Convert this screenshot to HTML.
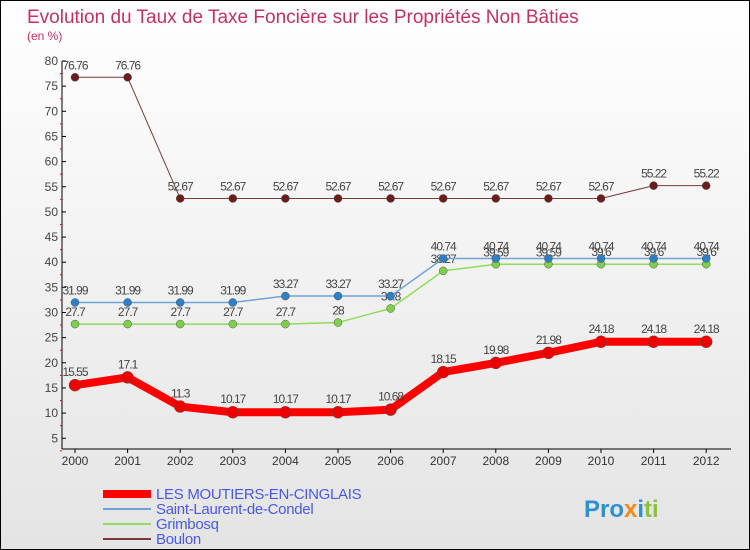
<!DOCTYPE html>
<html><head><meta charset="utf-8"><style>
body{margin:0}
#c{width:748px;height:548px;border:1px solid #000;background:linear-gradient(#fff,#e4e4e4);position:relative;overflow:hidden;font-family:"Liberation Sans",sans-serif}
</style></head><body>
<div id="c">
<svg id="s" width="748" height="548"></svg>
</div>
<script>
const years=[2000,2001,2002,2003,2004,2005,2006,2007,2008,2009,2010,2011,2012];
const moutiers=[15.55,17.1,11.3,10.17,10.17,10.17,10.68,18.15,19.98,21.98,24.18,24.18,24.18];
const stLaurent=[31.99,31.99,31.99,31.99,33.27,33.27,33.27,40.74,40.74,40.74,40.74,40.74,40.74];
const grimbosq=[27.7,27.7,27.7,27.7,27.7,28,30.8,38.27,39.59,39.59,39.6,39.6,39.6];
const boulon=[76.76,76.76,52.67,52.67,52.67,52.67,52.67,52.67,52.67,52.67,52.67,55.22,55.22];
const yTicks=[5,10,15,20,25,30,35,40,45,50,55,60,65,70,75,80];
const NS="http://www.w3.org/2000/svg",s=document.getElementById('s');
const X=i=>74+i*52.6, Y=v=>60+(80-v)*5.03;
function el(t,a,txt,par){const e=document.createElementNS(NS,t);for(const k in a)e.setAttribute(k,a[k]);if(txt!==undefined)e.textContent=txt;(par||s).appendChild(e);return e;}
let t=el('text',{x:26,y:22,'font-size':19,fill:'#c0335f'},'Evolution du Taux de Taxe Foncière sur les Propriétés Non Bâties');


t=el('text',{x:26,y:39,'font-size':12,fill:'#c0335f'},'(en %)');


let a=el('line',{x1:61,y1:60,x2:61,y2:448,stroke:'#000'});


a=el('line',{x1:61,y1:448,x2:730,y2:448,stroke:'#000'});


yTicks.forEach(v=>{
 el('line',{x1:61,y1:Y(v),x2:65,y2:Y(v),stroke:'#000'});
 el('line',{x1:59,y1:Y(v-2.5),x2:61,y2:Y(v-2.5),stroke:'#e00'});
 const l=el('text',{x:57,y:Y(v)+4,'font-size':12,fill:'#444','text-anchor':'end'},v);
 
 
});
years.forEach((yr,i)=>{
 el('line',{x1:X(i),y1:448,x2:X(i),y2:452,stroke:'#000'});
 const l=el('text',{x:X(i),y:464,'font-size':12,fill:'#333','text-anchor':'middle'},yr);
 
 
});
function series(vals,color,w,r,dot,name,lblOff){
 const p=el('polyline',{points:vals.map((v,i)=>X(i)+','+Y(v)).join(' '),fill:'none',stroke:color,'stroke-width':w,'stroke-linejoin':'round'});
 
 
 vals.forEach((v,i)=>{
  const c=el('circle',{cx:X(i),cy:Y(v),r:r,fill:dot,stroke:'#555','stroke-width':0.5});
  
  
  const l=el('text',{x:X(i),y:Y(v)+lblOff,'font-size':12,fill:'#444','text-anchor':'middle','letter-spacing':'-1'},v);
  
  
 });
}
series(boulon,'#7a3b3b',1,4,'#6b1c1c','boulon',-8);
series(grimbosq,'#8fdc5e',1.5,4,'#7ed04a','grimbosq',-8);
series(stLaurent,'#6fa3d6',1.5,4,'#2d7fc6','saint-laurent',-8);
series(moutiers,'#f00',8,6,'#e00','moutiers',-9);
const leg=[['LES MOUTIERS-EN-CINGLAIS','#f00',8],['Saint-Laurent-de-Condel','#6fa3d6',2],['Grimbosq','#8fdc5e',2],['Boulon','#7a3b3b',2]];
leg.forEach((d,i)=>{
 const y=493+i*15;
 const g=el('line',{x1:102,y1:y,x2:150,y2:y,stroke:d[1],'stroke-width':d[2]});
 
 
 const l=el('text',{x:155,y:y+5,'font-size':15,fill:'#4a5ae0','letter-spacing':'-0.3'},d[0]);
 
 
});
const lg=el('text',{x:583,y:516,'font-size':24,'font-weight':'bold'});


el('tspan',{fill:'#2f8fd0'},'Pro',lg);
el('tspan',{fill:'#f08a1c'},'x',lg);
el('tspan',{fill:'#2f8fd0'},'i',lg);
el('tspan',{fill:'#8ac43f'},'ti',lg);
</script>
</body></html>
